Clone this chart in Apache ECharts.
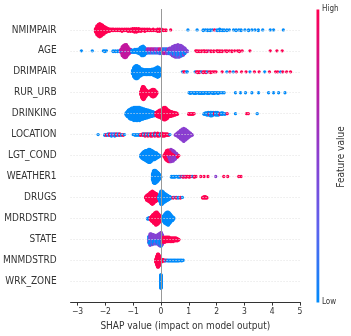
<!DOCTYPE html>
<html>
<head>
<meta charset="utf-8">
<title>SHAP summary</title>
<script src="https://cdn.jsdelivr.net/npm/echarts@6/dist/echarts.min.js"></script>
<style>
  html, body { margin: 0; padding: 0; background: #fff; }
  #chart { width: 351px; height: 336px; }
</style>
</head>
<body>
<div id="chart"></div>
<script>
// rows, top to bottom
const features = ["NMIMPAIR", "AGE", "DRIMPAIR", "RUR_URB", "DRINKING", "LOCATION", "LGT_COND",
  "WEATHER1", "DRUGS", "MDRDSTRD", "STATE", "MNMDSTRD", "WRK_ZONE"]
const xTicks = [-3, -2, -1, 0, 1, 2, 3, 4, 5]

// [shap value, feature value (0 low .. 1 high), how many points]
const shapNMIMPAIR = [
  [-2.35, 1, 6], [-2.3, 1, 14], [-2.25, 1, 18], [-2.2, 1, 20], [-2.15, 1, 18], [-2.1, 1, 15], [-2.05, 1, 12],
  [-2.0, 1, 9], [-1.95, 1, 7], [-1.9, 1, 5], [-1.85, 1, 4], [-1.8, 1, 3], [-1.75, 1, 3], [-1.7, 1, 3],
  [-1.62, 1, 3], [-1.55, 1, 3], [-1.48, 1, 3], [-1.4, 1, 4], [-1.32, 1, 3], [-1.25, 1, 3], [-1.18, 1, 4],
  [-1.1, 1, 4], [-1.02, 1, 5], [-0.95, 1, 6], [-0.88, 1, 6], [-0.8, 1, 5], [-0.72, 1, 4], [-0.65, 1, 3],
  [-0.58, 1, 4], [-0.5, 1, 3], [-0.42, 1, 3], [-0.35, 1, 2], [-0.28, 1, 3], [-0.2, 1, 2], [-0.12, 1, 4],
  [-0.05, 1, 4], [0.02, 1, 3], [0.1, 1, 2], [0.18, 1, 2], [0.35, 1, 1],
  [0.97, 0, 1], [1.3, 0, 1], [1.52, 0, 2], [1.6, 0, 1], [1.68, 0, 2], [1.77, 0, 2], [1.85, 0, 1], [1.93, 1, 1],
  [2.02, 0, 2], [2.11, 0, 3], [2.2, 0, 2], [2.27, 0, 2], [2.37, 0, 2], [2.46, 0, 1], [2.61, 0, 1], [2.7, 0, 2],
  [2.8, 0, 1], [2.88, 0, 2], [3.02, 0, 1], [3.15, 0, 2], [3.27, 0, 1], [3.38, 0, 1], [3.5, 0, 2], [3.66, 0, 1],
  [3.93, 0, 1], [4.05, 0, 1], [4.4, 0, 1]
]
const shapAGE = [
  [-2.86, 0, 1], [-2.47, 0, 1], [-2.07, 0, 1], [-2.02, 0, 2], [-1.96, 0, 1], [-1.72, 0, 2], [-1.64, 0, 2],
  [-1.56, 0, 2], [-1.5, 0, 1],
  [-1.44, 0.75, 5], [-1.39, 0.75, 12], [-1.39, 0, 2], [-1.34, 0.75, 18], [-1.29, 0.75, 20], [-1.24, 0.75, 17],
  [-1.24, 0, 2], [-1.19, 0.75, 13], [-1.14, 0.75, 8], [-1.09, 0.75, 5],
  [-1.04, 0, 4], [-0.99, 0, 4], [-0.94, 0, 5], [-0.89, 0, 5], [-0.84, 0, 6],
  [-0.79, 0, 8], [-0.74, 0, 11], [-0.69, 0, 14], [-0.64, 0, 15], [-0.59, 0, 12], [-0.54, 0, 8],
  [-0.49, 0.6, 4], [-0.49, 0, 3], [-0.44, 0.7, 4], [-0.44, 0.3, 3], [-0.39, 0.6, 4], [-0.39, 0, 3],
  [-0.34, 0.8, 4], [-0.34, 0.4, 3], [-0.29, 0.6, 4], [-0.29, 0, 3], [-0.24, 0.75, 4], [-0.24, 0.3, 3],
  [-0.19, 0.5, 4], [-0.19, 0, 3], [-0.14, 0.8, 3], [-0.14, 0.4, 4], [-0.09, 0.6, 4], [-0.09, 0, 3],
  [-0.04, 0.9, 4], [-0.04, 0.3, 4], [0.01, 0.7, 4], [0.01, 0, 4], [0.06, 0.5, 4], [0.06, 0.9, 3],
  [0.11, 0, 4], [0.11, 0.6, 4], [0.16, 0.4, 4], [0.16, 0.8, 3], [0.21, 0, 4], [0.21, 0.5, 4],
  [0.26, 0.6, 4], [0.26, 0.3, 4], [0.31, 0.5, 5], [0.31, 0, 4],
  [0.36, 0.45, 6], [0.36, 0, 4], [0.41, 0.5, 8], [0.41, 0.2, 6], [0.46, 0.45, 9], [0.46, 0, 7],
  [0.51, 0.5, 10], [0.51, 0.3, 8], [0.56, 0.45, 10], [0.56, 0, 8], [0.61, 0.5, 10], [0.61, 0.25, 9],
  [0.66, 0.45, 10], [0.66, 0, 8], [0.71, 0.5, 9], [0.71, 0.3, 8], [0.76, 0.45, 8], [0.76, 0, 7],
  [0.81, 0.5, 7], [0.81, 0.2, 5], [0.86, 0.45, 5], [0.86, 0, 4], [0.91, 0.5, 3], [0.95, 0.4, 2],
  [1.25, 1, 1], [1.3, 1, 2], [1.37, 1, 2], [1.45, 1, 2], [1.52, 1, 1], [1.57, 1, 2], [1.65, 1, 2],
  [1.72, 0.8, 1], [1.8, 1, 2], [1.9, 1, 2], [2.0, 1, 1], [2.05, 1, 2], [2.12, 1, 2], [2.2, 1, 2],
  [2.3, 1, 1], [2.37, 1, 2], [2.46, 1, 1], [2.55, 1, 2], [2.65, 1, 1], [2.75, 1, 1], [2.82, 1, 2],
  [2.92, 1, 1], [3.2, 1, 1], [3.93, 1, 1], [4.17, 1, 1], [4.36, 1, 1]
]
const shapDRIMPAIR = [
  [-1.02, 0, 6], [-0.98, 0, 14], [-0.94, 0, 18], [-0.9, 0, 20], [-0.86, 0, 20], [-0.82, 0, 18], [-0.78, 0, 15],
  [-0.74, 0, 12], [-0.7, 0, 10], [-0.66, 0, 9], [-0.62, 0, 8], [-0.57, 0, 8], [-0.52, 0, 8], [-0.47, 0, 8],
  [-0.42, 0, 8], [-0.37, 0, 8], [-0.32, 0, 9], [-0.27, 0, 10], [-0.22, 0, 12], [-0.17, 0, 14], [-0.12, 0, 16],
  [-0.07, 0, 14], [-0.03, 0, 9],
  [0.77, 0, 1], [0.82, 1, 1], [0.86, 1, 1], [0.92, 0, 1], [0.95, 0, 1],
  [1.23, 0, 1], [1.28, 1, 1], [1.32, 1, 2], [1.37, 1, 2], [1.41, 1, 1], [1.46, 0, 1], [1.52, 1, 2],
  [1.57, 1, 1], [1.62, 1, 2], [1.67, 0, 1], [1.73, 1, 1], [1.79, 1, 2], [1.86, 1, 1], [1.92, 1, 1], [1.98, 1, 1],
  [2.2, 1, 1], [2.37, 0, 1], [2.48, 1, 1], [2.6, 0, 1], [2.71, 1, 1], [2.9, 1, 1], [3.06, 1, 1], [3.2, 0, 1],
  [3.36, 1, 1], [3.53, 1, 1], [3.73, 0, 1], [3.9, 1, 1], [4.12, 1, 1], [4.2, 1, 1], [4.3, 0, 1], [4.38, 1, 1],
  [4.52, 1, 1], [4.66, 1, 1]
]
const shapRUR_URB = [
  [-0.72, 1, 6], [-0.69, 1, 14], [-0.66, 1, 19], [-0.63, 1, 20], [-0.6, 1, 18], [-0.57, 1, 14], [-0.54, 1, 10],
  [-0.5, 1, 7], [-0.46, 1, 5], [-0.42, 1, 5], [-0.38, 1, 7], [-0.34, 1, 10], [-0.3, 1, 12], [-0.26, 1, 12],
  [-0.22, 1, 10], [-0.18, 1, 6], [-0.15, 1, 3],
  [1.01, 0, 1], [1.06, 0, 2], [1.12, 0, 1], [1.19, 0, 2], [1.25, 0, 2], [1.31, 0, 1], [1.37, 0, 2], [1.43, 0, 2],
  [1.49, 0, 2], [1.55, 0, 2], [1.61, 0, 1], [1.67, 0, 2], [1.73, 0, 2], [1.8, 0, 1], [1.86, 0, 2], [1.92, 0, 2],
  [1.98, 0, 1], [2.05, 0, 2], [2.12, 0, 1], [2.2, 0, 1], [2.27, 0, 1],
  [2.68, 0, 1], [2.86, 0, 1], [3.04, 0, 1], [3.27, 0, 1], [3.51, 0, 1], [3.87, 0, 1], [4.05, 0, 1],
  [4.23, 0, 1], [4.46, 0, 1]
]
const shapDRINKING = [
  [-1.25, 0, 4], [-1.21, 0, 8], [-1.17, 0, 11], [-1.13, 0, 14], [-1.09, 0, 16], [-1.05, 0, 17], [-1.01, 0, 18],
  [-0.97, 0, 20], [-0.93, 0, 19], [-0.89, 0, 20], [-0.85, 0, 20], [-0.81, 0, 19], [-0.77, 0, 20], [-0.73, 0, 18],
  [-0.69, 0, 17], [-0.65, 0, 16], [-0.61, 0, 15], [-0.57, 0, 14], [-0.53, 0, 13], [-0.49, 0, 12], [-0.45, 0, 11],
  [-0.41, 0, 10], [-0.37, 0, 9], [-0.33, 0, 8], [-0.29, 0, 7], [-0.25, 0, 6], [-0.21, 0, 4],
  [-0.17, 1, 6], [-0.13, 1, 8], [-0.09, 1, 10], [-0.05, 1, 11], [-0.01, 1, 12], [0.03, 1, 14], [0.07, 1, 17],
  [0.11, 1, 19], [0.15, 1, 19], [0.19, 1, 17], [0.23, 1, 14], [0.27, 1, 11], [0.31, 1, 9], [0.35, 1, 8],
  [0.39, 1, 7], [0.43, 1, 6], [0.47, 1, 5], [0.51, 1, 4], [0.55, 1, 3], [0.59, 1, 2],
  [1.0, 1, 2], [1.05, 1, 2], [1.1, 1, 2], [1.15, 1, 2], [1.19, 1, 1],
  [1.55, 0, 2], [1.6, 0, 3], [1.65, 0, 4], [1.7, 0, 5], [1.74, 1, 2], [1.78, 0, 6], [1.83, 0, 6], [1.88, 0, 5],
  [1.93, 1, 3], [1.97, 0, 5], [2.02, 0, 5], [2.07, 0, 4], [2.12, 1, 2], [2.17, 0, 3], [2.22, 0, 3], [2.3, 0, 2],
  [2.38, 1, 1], [2.68, 0, 1], [3.08, 1, 1], [3.14, 1, 1], [3.46, 0, 1]
]
const shapLOCATION = [
  [-2.26, 0, 1],
  [-2.02, 0, 2], [-1.96, 1, 2], [-1.9, 0, 3], [-1.84, 1, 3], [-1.78, 0, 4], [-1.72, 0.5, 3], [-1.66, 0, 4],
  [-1.6, 1, 3], [-1.54, 0, 3], [-1.48, 1, 3], [-1.42, 0, 2], [-1.36, 1, 2], [-1.31, 0, 1],
  [-1.0, 0, 1], [-0.93, 0, 2], [-0.86, 0, 2], [-0.79, 0, 2], [-0.73, 1, 2],
  [-0.66, 1, 3], [-0.62, 0, 3], [-0.57, 1, 4], [-0.52, 0, 3], [-0.47, 1, 4], [-0.42, 0, 3], [-0.37, 1, 4],
  [-0.32, 1, 4], [-0.27, 0, 3], [-0.22, 1, 5], [-0.17, 0, 3], [-0.12, 1, 5], [-0.07, 1, 4], [-0.02, 0, 3],
  [0.03, 1, 5], [0.08, 1, 4], [0.13, 1, 4], [0.18, 1, 3], [0.23, 1, 3], [0.28, 1, 2], [0.32, 0, 1],
  [0.52, 0.5, 2], [0.58, 0.5, 5], [0.64, 0.5, 9], [0.7, 0.5, 13], [0.76, 0.5, 17], [0.82, 0.5, 20],
  [0.88, 0.5, 17], [0.94, 0.5, 13], [1.0, 0.5, 9], [1.06, 0.5, 5], [1.12, 0.5, 2]
]
const shapLGT_COND = [
  [-0.72, 0, 4], [-0.68, 0, 8], [-0.64, 0, 11], [-0.6, 0, 13], [-0.56, 0, 15], [-0.52, 0, 16], [-0.48, 0, 18],
  [-0.44, 0, 20], [-0.4, 0, 20], [-0.36, 0, 18], [-0.32, 0, 15], [-0.28, 0, 13], [-0.24, 0, 12], [-0.2, 0, 10],
  [-0.16, 0, 9], [-0.12, 0, 6], [-0.08, 0, 4], [-0.05, 0, 2],
  [0.12, 1, 4], [0.16, 1, 10], [0.2, 1, 15], [0.24, 1, 17], [0.28, 1, 14], [0.28, 0.5, 4], [0.32, 1, 10],
  [0.32, 0.55, 8], [0.36, 1, 9], [0.36, 0.5, 10], [0.4, 1, 8], [0.4, 0.6, 9], [0.44, 1, 6], [0.44, 0.5, 10],
  [0.48, 1, 5], [0.48, 0.55, 8], [0.52, 1, 4], [0.52, 0.5, 6], [0.56, 1, 3], [0.56, 0.5, 4], [0.6, 0.5, 2],
  [0.6, 1, 2], [0.64, 1, 1]
]
const shapWEATHER1 = [
  [-0.3, 0, 10], [-0.27, 0, 18], [-0.24, 0, 20], [-0.21, 0, 20], [-0.18, 0, 18], [-0.15, 0, 16], [-0.12, 0, 14],
  [-0.09, 0, 11], [-0.06, 0, 8], [-0.03, 0, 5], [-0.01, 0, 2],
  [0.38, 0, 2], [0.44, 0, 2], [0.5, 0, 2], [0.56, 0, 1], [0.62, 0, 2], [0.68, 0, 2], [0.72, 1, 1], [0.76, 0, 1],
  [0.8, 1, 2], [0.86, 0.5, 1], [0.9, 1, 2], [0.96, 1, 1], [1.02, 1, 2], [1.08, 1, 1], [1.14, 0, 1], [1.2, 1, 2],
  [1.26, 1, 1], [1.43, 1, 1], [1.55, 1, 1], [1.69, 1, 1], [1.97, 0.5, 1], [2.26, 1, 1], [2.4, 1, 1],
  [2.8, 1, 1], [2.88, 1, 1]
]
const shapDRUGS = [
  [-0.55, 1, 3], [-0.51, 1, 8], [-0.47, 1, 10], [-0.43, 1, 12], [-0.39, 1, 15], [-0.35, 1, 18], [-0.31, 1, 20],
  [-0.27, 1, 18], [-0.23, 1, 15], [-0.19, 1, 13], [-0.15, 1, 11], [-0.11, 1, 8], [-0.07, 1, 5],
  [-0.08, 0, 4], [-0.04, 0, 12], [0.0, 0, 20], [0.04, 0, 20], [0.08, 0, 17], [0.12, 0, 14], [0.16, 0, 12],
  [0.2, 0, 10], [0.24, 0, 8], [0.28, 0, 6], [0.32, 0, 4], [0.36, 0, 2],
  [0.44, 1, 2], [0.5, 0, 1], [0.55, 1, 2], [0.62, 0, 2], [0.7, 1, 2], [0.77, 0, 1],
  [1.5, 1, 2], [1.55, 1, 3], [1.6, 1, 3], [1.65, 1, 2]
]
const shapMDRDSTRD = [
  [-0.48, 0, 2], [-0.43, 0, 3], [-0.38, 1, 4], [-0.34, 1, 8], [-0.3, 1, 11], [-0.26, 1, 14], [-0.22, 1, 17],
  [-0.18, 1, 20], [-0.14, 1, 19], [-0.1, 1, 16], [-0.06, 1, 12], [-0.02, 1, 8], [0.02, 1, 5], [0.02, 0, 2],
  [0.06, 0, 6], [0.1, 0, 10], [0.14, 0, 14], [0.18, 0, 17], [0.22, 0, 19], [0.26, 0, 20], [0.3, 0, 17],
  [0.34, 0, 13], [0.38, 0, 9], [0.42, 0, 6], [0.46, 0, 3]
]
const shapSTATE = [
  [-0.43, 0, 6], [-0.43, 0.45, 4], [-0.39, 0.5, 9], [-0.39, 0, 7], [-0.35, 0.45, 8], [-0.35, 0, 7],
  [-0.31, 0.5, 8], [-0.31, 0.3, 6], [-0.27, 0.45, 7], [-0.27, 0, 6], [-0.23, 0.5, 7], [-0.23, 0, 5],
  [-0.19, 0.45, 6], [-0.19, 0.2, 6], [-0.15, 0.5, 7], [-0.15, 0, 5], [-0.11, 0.45, 7], [-0.11, 0, 6],
  [-0.07, 0.5, 9], [-0.07, 0.2, 7], [-0.03, 0.45, 10], [-0.03, 0, 8], [0.01, 0.5, 10], [0.01, 0, 9],
  [0.05, 0.45, 8], [0.05, 0.8, 6],
  [0.09, 1, 8], [0.14, 1, 8], [0.19, 1, 7], [0.24, 1, 7], [0.29, 1, 7], [0.34, 1, 6], [0.39, 1, 6],
  [0.44, 1, 6], [0.49, 1, 5], [0.54, 1, 5], [0.59, 1, 4], [0.64, 1, 2]
]
const shapMNMDSTRD = [
  [-0.18, 1, 6], [-0.15, 1, 14], [-0.12, 1, 20], [-0.09, 1, 20], [-0.06, 1, 16], [-0.03, 1, 10], [0.0, 1, 6],
  [0.04, 1, 4], [0.08, 1, 3], [0.12, 1, 2], [0.16, 0, 2], [0.2, 1, 1],
  [0.24, 0, 2], [0.29, 0, 2], [0.34, 0, 2], [0.39, 0, 2], [0.44, 0, 2], [0.49, 0, 2], [0.54, 0, 2],
  [0.59, 0, 2], [0.64, 0, 2], [0.69, 0, 1], [0.74, 0, 2], [0.8, 0, 1]
]
const shapWRK_ZONE = [[-0.01, 0, 20], [0.01, 0, 20]]

const rowData = [shapNMIMPAIR, shapAGE, shapDRIMPAIR, shapRUR_URB, shapDRINKING, shapLOCATION, shapLGT_COND,
  shapWEATHER1, shapDRUGS, shapMDRDSTRD, shapSTATE, shapMNMDSTRD, shapWRK_ZONE]

const font = "'DejaVu Sans Condensed', 'DejaVu Sans', sans-serif"
const cmap = ["#008bfb", "#5c63ee", "#8a3fd0", "#c2189e", "#ff0052"]

// stack points sharing a shap value up and down around the row, like shap does
function swarm(groups, row) {
  const cols = new Map()
  groups.forEach(([s, f, n]) => {
    const key = s.toFixed(3)
    if (!cols.has(key)) cols.set(key, [])
    for (let k = 0; k < n; k++) cols.get(key).push({ s, f, k })
  })
  let maxY = 0
  const pts = []
  cols.forEach((col) => {
    col.sort((a, b) => a.k - b.k)
    col.forEach((p, layer) => {
      const off = Math.ceil(layer / 2) * (layer % 2 ? 1 : -1)
      maxY = Math.max(maxY, off)
      pts.push([p.s, off, p.f])
    })
  })
  const scale = (0.9 * 0.4) / (maxY + 1)
  return pts.map((p) => [p[0], row + p[1] * scale, p[2]])
}

let points = []
rowData.forEach((g, i) => { points = points.concat(swarm(g, i)) })

const chart = echarts.init(document.getElementById("chart"), null, { renderer: "canvas" })
chart.setOption({
  backgroundColor: "#fff",
  animation: false,
  grid: { left: 69, width: 231, top: 9, bottom: 33, containLabel: false },
  xAxis: {
    type: "value",
    min: -3.25,
    max: 5,
    name: "SHAP value (impact on model output)",
    nameLocation: "middle",
    nameGap: 17,
    nameTextStyle: { fontFamily: font, fontSize: 10, color: "#333" },
    axisLine: { show: true, onZero: false, lineStyle: { color: "#333", width: 1 } },
    axisTick: { show: true, customValues: xTicks, length: 3.5, lineStyle: { color: "#333" } },
    axisLabel: {
      customValues: xTicks,
      margin: 5,
      fontFamily: font,
      fontSize: 8.5,
      color: "#333",
      formatter: (v) => (v < 0 ? "\u2212" + (-v) : String(v)),
    },
    splitLine: { show: false },
  },
  yAxis: {
    type: "value",
    inverse: true,
    min: -1,
    max: 13,
    interval: 1,
    axisLine: { show: false },
    axisTick: { show: false },
    splitLine: { show: false },
    axisLabel: {
      margin: 14,
      fontFamily: font,
      fontSize: 10,
      color: "#333",
      formatter: (v) => features[v] || "",
    },
  },
  visualMap: {
    show: false,
    type: "continuous",
    seriesIndex: 0,
    dimension: 2,
    min: 0,
    max: 1,
    inRange: { color: cmap },
  },
  series: [
    {
      type: "scatter",
      data: points,
      symbolSize: 3.3,
      z: 3,
      silent: true,
      itemStyle: { opacity: 1 },
    },
    {
      // dotted row guides and the zero line
      type: "line",
      data: [],
      z: 1,
      markLine: {
        silent: true,
        symbol: ["none", "none"],
        label: { show: false },
        animation: false,
        data: features
          .map((f, i) => ({ yAxis: i, lineStyle: { color: "#e2e2e2", width: 1, type: [1, 2] } }))
          .concat([{ xAxis: 0, lineStyle: { color: "#999", width: 1, type: "solid" } }]),
      },
    },
  ],
  graphic: [
    {
      type: "rect",
      shape: { x: 316.5, y: 9.5, width: 2.8, height: 293 },
      style: {
        fill: new echarts.graphic.LinearGradient(0, 0, 0, 1, cmap.slice().reverse().map((c, i) => ({ offset: i / 4, color: c }))),
      },
    },
    {
      type: "text", left: 322, top: 5,
      style: { text: "High", font: "8px " + font, fill: "#333" },
    },
    {
      type: "text", left: 322, top: 298,
      style: { text: "Low", font: "8px " + font, fill: "#333" },
    },
    {
      type: "text",
      x: 341, y: 157,
      rotation: Math.PI / 2,
      style: { text: "Feature value", font: "10px " + font, fill: "#333", align: "center", verticalAlign: "middle" },
    },
  ],
})
</script>
</body>
</html>
